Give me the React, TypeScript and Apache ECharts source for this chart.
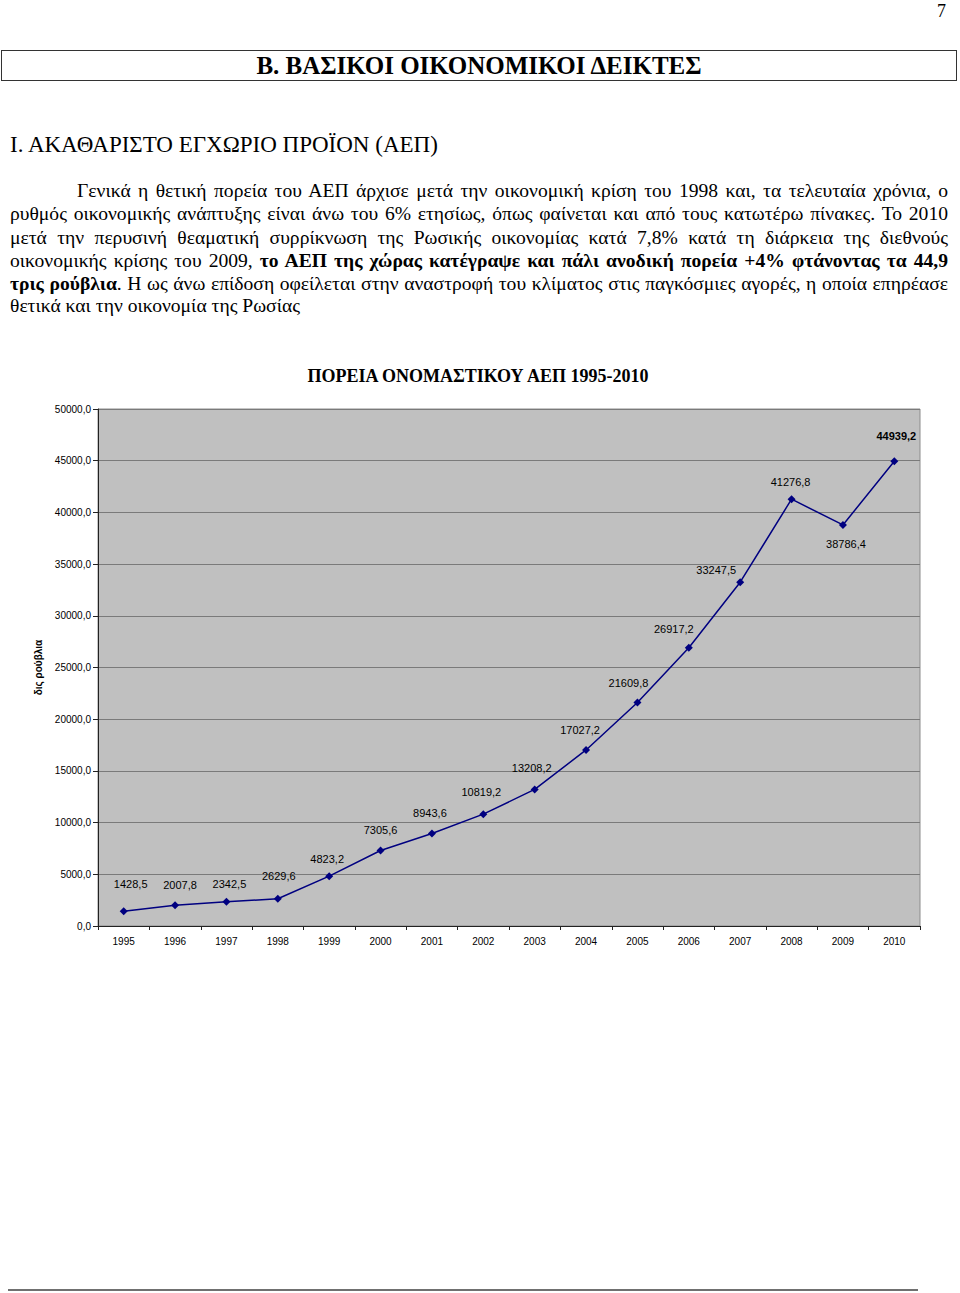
import React, { useEffect, useRef } from "react";
import * as echarts from "echarts";

const years = ["1995", "1996", "1997", "1998", "1999", "2000", "2001", "2002", "2003", "2004", "2005", "2006", "2007", "2008", "2009", "2010"];
const gdp = [1428.5, 2007.8, 2342.5, 2629.6, 4823.2, 7305.6, 8943.6, 10819.2, 13208.2, 17027.2, 21609.8, 26917.2, 33247.5, 41276.8, 38786.4, 44939.2];
// label placement tweaks (style only)
const labelOffsets: [number, number][] = [
  [7, -13], [5, -6], [3, -3], [1, -8], [-2, -3], [0, -6], [-2, -6], [-2, -8],
  [-3, -7], [-6, -5], [-9, -5], [-15, -4], [-24, 2], [-1, -3], [3, 5], [2, -11],
];
const labelBottom = [false, false, false, false, false, false, false, false, false, false, false, false, false, false, true, false];
const labelBold = [false, false, false, false, false, false, false, false, false, false, false, false, false, false, false, true];

const chartTitle = "ΠΟΡΕΙΑ ΟΝΟΜΑΣΤΙΚΟΥ ΑΕΠ 1995-2010";
const yName = "δις ρούβλια";

const fmt = (v: number) => v.toFixed(1).replace(".", ",");

const serif = "'Liberation Serif', 'Times New Roman', serif";
const sans = "'Liberation Sans', Arial, sans-serif";

export default function App() {
  const ref = useRef<HTMLDivElement>(null);
  useEffect(() => {
    if (!ref.current) return;
    const chart = echarts.init(ref.current, undefined, { renderer: "svg" });
    chart.setOption({
      animation: false,
      backgroundColor: "transparent",
      graphic: [
        {
          type: "text",
          x: 478,
          y: 376,
          style: {
            text: chartTitle,
            textAlign: "center",
            textVerticalAlign: "middle",
            font: `bold 18px ${serif}`,
            fill: "#000",
          },
        },
      ],
      grid: {
        left: 98,
        top: 409,
        width: 822,
        height: 517,
        show: true,
        backgroundColor: "#C0C0C0",
        borderColor: "#8c8c8c",
        borderWidth: 1,
      },
      xAxis: {
        type: "category",
        data: years,
        boundaryGap: true,
        axisLine: { lineStyle: { color: "#222", width: 1 } },
        axisTick: { show: true, length: 4, lineStyle: { color: "#222" } },
        axisLabel: { fontFamily: sans, fontSize: 10, color: "#000", margin: 10 },
      },
      yAxis: {
        type: "value",
        min: 0,
        max: 50000,
        interval: 5000,
        name: yName,
        nameLocation: "middle",
        nameRotate: 90,
        nameGap: 45,
        nameTextStyle: { fontFamily: sans, fontSize: 10, fontWeight: "bold", color: "#000" },
        axisLine: { show: true, lineStyle: { color: "#222", width: 1 } },
        axisTick: { show: true, length: 5, lineStyle: { color: "#222" } },
        axisLabel: { fontFamily: sans, fontSize: 10, color: "#000", margin: 7, formatter: (v: number) => fmt(v) },
        splitLine: { show: true, lineStyle: { color: "#7a7a7a", width: 1 } },
      },
      series: [
        {
          type: "line",
          data: gdp.map((v, i) => ({
            value: v,
            label: {
              position: labelBottom[i] ? "bottom" : "top",
              offset: labelOffsets[i],
              fontWeight: labelBold[i] ? "bold" : "normal",
            },
          })),
          symbol: "diamond",
          symbolSize: 8,
          lineStyle: { color: "#000080", width: 1.5 },
          itemStyle: { color: "#000080" },
          label: {
            show: true,
            distance: 5,
            fontFamily: sans,
            fontSize: 11,
            color: "#000",
            formatter: (p: any) => fmt(p.value),
          },
        },
      ],
    });
    return () => chart.dispose();
  }, []);

  const lineStyle: React.CSSProperties = {
    position: "absolute",
    height: 23,
    lineHeight: "23px",
    fontFamily: serif,
    fontSize: 19.6,
    whiteSpace: "nowrap",
    textAlign: "justify",
  };

  const lines: { text: React.ReactNode; top: number; indent?: number; last?: boolean }[] = [
    { text: "Γενικά η θετική πορεία του ΑΕΠ άρχισε μετά την οικονομική κρίση του 1998 και, τα τελευταία χρόνια, ο", top: 179, indent: 67 },
    { text: "ρυθμός οικονομικής ανάπτυξης είναι άνω του 6% ετησίως, όπως φαίνεται και από τους κατωτέρω πίνακες. Το 2010", top: 202 },
    { text: "μετά την περυσινή θεαματική συρρίκνωση της Ρωσικής οικονομίας κατά 7,8% κατά τη διάρκεια της διεθνούς", top: 226 },
    {
      text: (
        <>
          οικονομικής κρίσης του 2009, <b>το ΑΕΠ της χώρας κατέγραψε και πάλι ανοδική πορεία +4% φτάνοντας τα 44,9</b>
        </>
      ),
      top: 249,
    },
    {
      text: (
        <>
          <b>τρις ρούβλια</b>. Η ως άνω επίδοση οφείλεται στην αναστροφή του κλίματος στις παγκόσμιες αγορές, η οποία επηρέασε
        </>
      ),
      top: 272,
    },
    { text: "θετικά και την οικονομία της Ρωσίας", top: 294, last: true },
  ];

  return (
    <div style={{ position: "absolute", left: 0, top: 0, width: 960, height: 1293, background: "#fff", overflow: "hidden" }}>
      <div ref={ref} style={{ position: "absolute", left: 0, top: 0, width: 960, height: 1293 }} />
      <div style={{ position: "absolute", left: 935, top: 1, fontFamily: serif, fontSize: 18, lineHeight: "20px", padding: "0 2px" }}>7</div>
      <div
        style={{
          position: "absolute",
          left: 1,
          top: 50,
          width: 954,
          height: 29,
          border: "1px solid #333",
          display: "flex",
          alignItems: "center",
          justifyContent: "center",
          fontFamily: serif,
          fontSize: 25,
          fontWeight: "bold",
          lineHeight: "29px",
        }}
      >
        Β. ΒΑΣΙΚΟΙ ΟΙΚΟΝΟΜΙΚΟΙ ΔΕΙΚΤΕΣ
      </div>
      <div style={{ position: "absolute", left: 10, top: 132, fontFamily: serif, fontSize: 23, lineHeight: "26px", whiteSpace: "nowrap" }}>
        Ι. ΑΚΑΘΑΡΙΣΤΟ ΕΓΧΩΡΙΟ ΠΡΟΪΟΝ (ΑΕΠ)
      </div>
      {lines.map((l, i) => (
        <div
          key={i}
          style={{
            ...lineStyle,
            top: l.top,
            left: 10 + (l.indent || 0),
            width: 938 - (l.indent || 0),
            textAlignLast: l.last ? "left" : "justify",
          }}
        >
          {l.text}
        </div>
      ))}
      <div style={{ position: "absolute", left: 8, top: 1289, width: 910, height: 2, background: "#707070" }} />
    </div>
  );
}
